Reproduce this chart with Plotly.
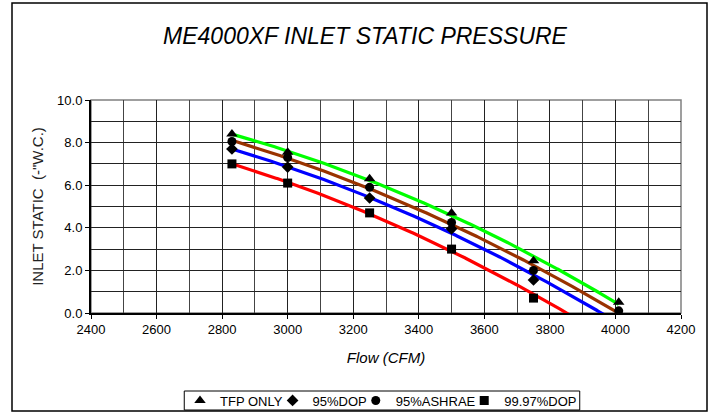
import numpy as np
import plotly.graph_objects as go

# ---- data ----
flow = [2830, 3000, 3250, 3500, 3750, 4010]
tfp_only = [8.4, 7.55, 6.3, 4.7, 2.45, 0.5]
dop_95 = [7.7, 6.85, 5.4, 3.95, 1.55, -0.4]
ashrae_95 = [8.05, 7.3, 5.9, 4.25, 2.0, 0.1]
dop_9997 = [7.0, 6.1, 4.7, 3.0, 0.7, -1.4]

series_names = ["TFP ONLY", "95%DOP", "95%ASHRAE", "99.97%DOP"]
series_values = [tfp_only, dop_95, ashrae_95, dop_9997]
series_symbols = ["triangle-up", "diamond", "circle", "square"]
trend_colors = ["#00FF00", "#0000FF", "#993300", "#FF0000"]

x_ticks = [2400, 2600, 2800, 3000, 3200, 3400, 3600, 3800, 4000, 4200]
y_ticks = [0, 2, 4, 6, 8, 10]

FONT = "Arial, Liberation Sans, sans-serif"
LEG_SIZE = 13
# approximate Arial advance widths (em) used to tighten the legend entries
ADV = {"T": .611, "F": .611, "P": .667, " ": .278, "O": .778, "N": .722, "L": .556,
       "Y": .667, "9": .556, "5": .556, "7": .556, ".": .278, "%": .889, "D": .722,
       "A": .667, "S": .667, "H": .722, "R": .722, "E": .667}

def text_w(s, size):
    return sum(ADV.get(c, .6) for c in s) * size

fig = go.Figure()

# polynomial (order 2) trendlines, like the spreadsheet trendlines
for vals, col in zip(series_values, trend_colors):
    coef = np.polyfit(flow, vals, 2)
    xs = np.linspace(min(flow), max(flow), 300)
    fig.add_trace(go.Scatter(
        x=xs, y=np.polyval(coef, xs), mode="lines",
        line=dict(color=col, width=3.2), showlegend=False, hoverinfo="skip"))

leg_total = 0.0
for i, (name, vals, sym) in enumerate(zip(series_names, series_values, series_symbols)):
    w = text_w(name, LEG_SIZE)
    lw = w - 16 if i < len(series_names) - 1 else w
    leg_total += 45 + lw
    fig.add_trace(go.Scatter(
        x=flow, y=vals, mode="markers", name=name, legendwidth=lw,
        marker=dict(symbol=sym, color="black", size=9 if sym != "triangle-up" else 10,
                    line=dict(width=0))))

L, R, T, B = 91, 33, 100, 100
W, H = 714, 413
pw, ph = W - L - R, H - T - B

def px_x(p):
    return (p - L) / pw

def px_y(p):
    return (H - B - p) / ph

LEG_CX = 381
fig.update_layout(
    width=W, height=H,
    margin=dict(l=L, r=R, t=T, b=B, autoexpand=False),
    paper_bgcolor="white", plot_bgcolor="white",
    font=dict(family=FONT, size=13, color="black"),
    title=dict(text="<i>ME4000XF INLET STATIC PRESSURE</i>", x=365 / W, xref="container",
               xanchor="center", y=1 - 36 / H, yref="container", yanchor="middle",
               font=dict(family=FONT, size=23, color="black")),
    showlegend=True,
    legend=dict(orientation="h", xref="container", yref="container",
                x=LEG_CX / W, xanchor="center", y=1 - 400.5 / H, yanchor="middle",
                borderwidth=0, bgcolor="rgba(0,0,0,0)",
                font=dict(family=FONT, size=LEG_SIZE, color="black"),
                itemwidth=30, tracegroupgap=0),
    xaxis=dict(range=[2400, 4200], tickvals=x_ticks, ticktext=[str(v) for v in x_ticks],
               showgrid=True, gridcolor="#222222", gridwidth=1,
               minor=dict(dtick=100, showgrid=True, gridcolor="#444444", gridwidth=1,
                          ticks=""),
               ticks="outside", ticklen=4, tickcolor="black", tickwidth=1,
               showline=True, linecolor="black", linewidth=1.5,
               zeroline=False,
               tickfont=dict(family=FONT, size=13, color="black"),
               title=dict(text="<i>Flow (CFM)</i>", standoff=16,
                          font=dict(family=FONT, size=15, color="black"))),
    yaxis=dict(range=[0, 10], tickvals=y_ticks, tickformat=".1f",
               showgrid=True, gridcolor="#222222", gridwidth=1,
               minor=dict(dtick=1, showgrid=True, gridcolor="#222222", gridwidth=1, ticks=""),
               ticks="outside", ticklen=4, tickcolor="black", tickwidth=1,
               showline=True, linecolor="black", linewidth=2,
               zeroline=False,
               tickfont=dict(family=FONT, size=13, color="black"),
               title=dict(text="INLET STATIC  (-\"W.C.)", standoff=10,
                          font=dict(family=FONT, size=15, color="#222222"))),
    shapes=[
        dict(type="rect", xref="paper", yref="paper", x0=0, x1=1, y0=0, y1=1,
             line=dict(color="#808080", width=1.5), layer="between"),
        dict(type="rect", xref="paper", yref="paper",
             x0=px_x(12), x1=px_x(707), y0=px_y(411), y1=px_y(3),
             line=dict(color="black", width=1.5), layer="above"),
        # legend frame
        dict(type="rect", xref="paper", yref="paper",
             x0=px_x(LEG_CX - leg_total / 2 + 4), x1=px_x(LEG_CX + leg_total / 2 - 2),
             y0=px_y(410), y1=px_y(391),
             line=dict(color="black", width=1), layer="above"),
    ],
)

fig.write_html("out.html", config={"displayModeBar": False},
               post_script="document.body.style.margin='0';document.body.style.overflow='hidden';")
